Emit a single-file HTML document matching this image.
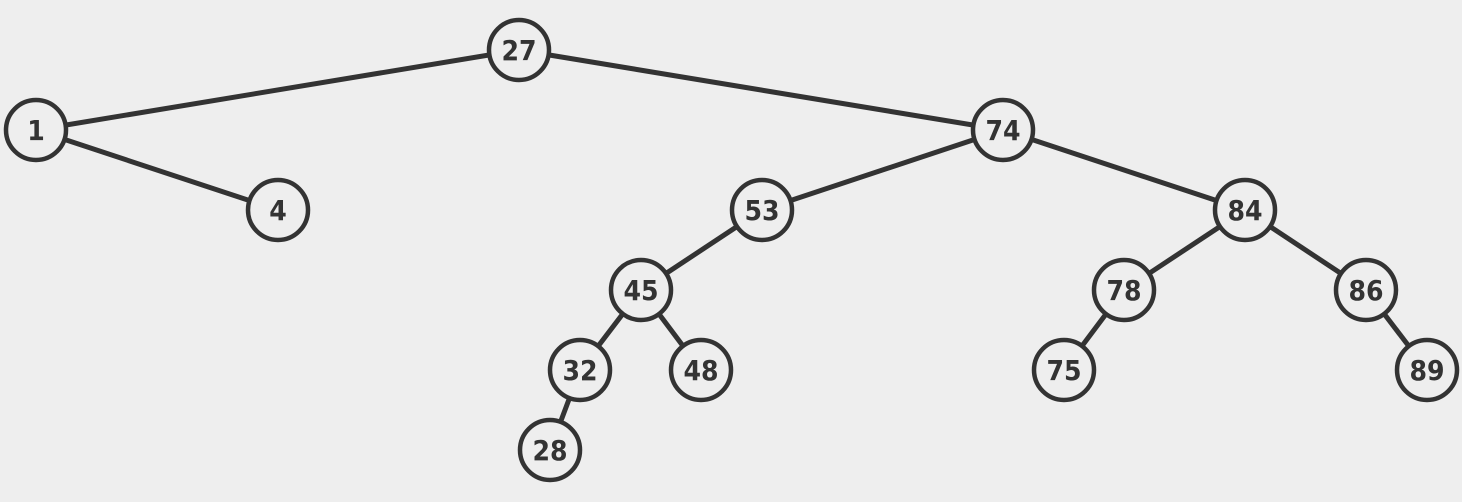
<!DOCTYPE html>
<html><head><style>
html,body{margin:0;padding:0;background:#eeeeee;}
svg{display:block;}
text{font-family:"DejaVu Sans Condensed","Liberation Sans",sans-serif;font-weight:bold;font-size:28px;fill:#333;}
</style></head><body>
<svg width="1462" height="502" xmlns="http://www.w3.org/2000/svg">
<g stroke="#333" stroke-width="5" fill="none">
<line x1="519" y1="50" x2="36" y2="130"/>
<line x1="519" y1="50" x2="1003" y2="130"/>
<line x1="36" y1="130" x2="278" y2="210"/>
<line x1="1003" y1="130" x2="762" y2="210"/>
<line x1="1003" y1="130" x2="1245" y2="210"/>
<line x1="762" y1="210" x2="641" y2="290"/>
<line x1="1245" y1="210" x2="1124" y2="290"/>
<line x1="1245" y1="210" x2="1366" y2="290"/>
<line x1="641" y1="290" x2="580" y2="370"/>
<line x1="641" y1="290" x2="701" y2="370"/>
<line x1="1124" y1="290" x2="1064" y2="370"/>
<line x1="1366" y1="290" x2="1427" y2="370"/>
<line x1="580" y1="370" x2="550" y2="450"/>
</g>
<g stroke="#333" stroke-width="4.5" fill="#eeeeee">
<circle cx="519" cy="50" r="30"/><circle cx="36" cy="130" r="30"/><circle cx="278" cy="210" r="30"/>
<circle cx="1003" cy="130" r="30"/><circle cx="762" cy="210" r="30"/><circle cx="1245" cy="210" r="30"/>
<circle cx="641" cy="290" r="30"/><circle cx="1124" cy="290" r="30"/><circle cx="1366" cy="290" r="30"/>
<circle cx="580" cy="370" r="30"/><circle cx="701" cy="370" r="30"/><circle cx="1064" cy="370" r="30"/>
<circle cx="1427" cy="370" r="30"/><circle cx="550" cy="450" r="30"/>
</g>
<g text-anchor="middle">
<text x="519" y="60">27</text><text x="36" y="140">1</text><text x="278" y="220">4</text>
<text x="1003" y="140">74</text><text x="762" y="220">53</text><text x="1245" y="220">84</text>
<text x="641" y="300">45</text><text x="1124" y="300">78</text><text x="1366" y="300">86</text>
<text x="580" y="380">32</text><text x="701" y="380">48</text><text x="1064" y="380">75</text>
<text x="1427" y="380">89</text><text x="550" y="460">28</text>
</g>
</svg>
</body></html>
